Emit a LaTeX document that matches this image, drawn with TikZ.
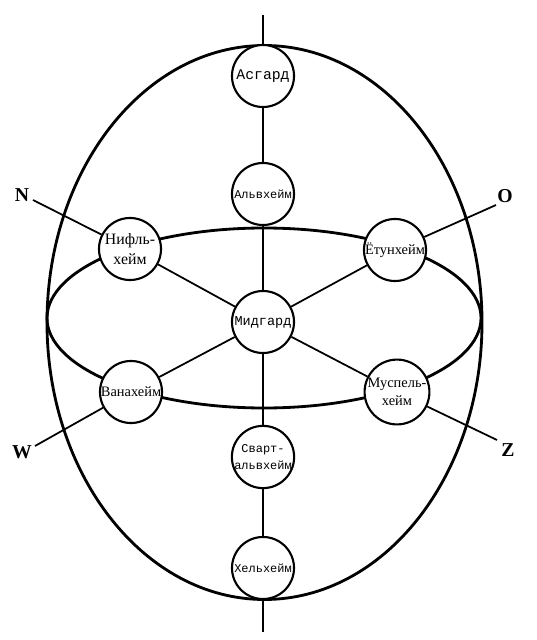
\documentclass[tikz,border=0pt]{standalone}
\usepackage{fontspec}
\setmainfont{Liberation Serif}
\newfontfamily\monof{Liberation Mono}
\begin{document}
\begin{tikzpicture}[x=0.01cm,y=-0.01cm,
  world/.style={circle,draw,line width=0.6pt,fill=white,minimum size=0.62cm,inner sep=0pt,align=center},
  monobig/.style={font=\monof\fontsize{4.2}{5}\selectfont},
  monomid/.style={font=\monof\fontsize{3.85}{4.8}\selectfont},
  mono/.style={font=\monof\fontsize{3.4}{4.6}\selectfont},
  serif/.style={font=\fontsize{4.1}{5.2}\selectfont},
  serifbig/.style={font=\fontsize{4.5}{5.6}\selectfont},
  dir/.style={font=\bfseries\fontsize{5.6}{6}\selectfont,inner sep=0pt},
  axis/.style={line width=0.5pt},
  ring/.style={line width=0.8pt}]
\useasboundingbox (0,0) rectangle (537,640);
% ellipses
\draw[ring] (264.5,322.5) ellipse [x radius=217.5, y radius=277];
\draw[ring] (264,318) ellipse [x radius=217, y radius=90];
% nodes
\node[world,monobig] (asg) at (263,76) {Асгард};
\node[world,mono] (alv) at (263,194) {Альвхейм};
\node[world,serifbig] (nif) at (130,249) {Нифль-\\хейм};
\node[world,serif] (jot) at (395,250) {Ётунхейм};
\node[world,monomid] (mid) at (263,322) {Мидгард};
\node[world,serif] (van) at (131,392) {Ванахейм};
\node[world,serif] (mus) at (397,392) {Муспель-\\хейм};
\node[world,mono] (sva) at (263,457) {Сварт-\\альвхейм};
\node[world,mono] (hel) at (263,568) {Хельхейм};
\node[dir] (N) at (22,195) {N};
\node[dir] (O) at (505,196) {O};
\node[dir] (W) at (22,452) {W};
\node[dir] (Z) at (508,450) {Z};
\coordinate (top) at (263,15);
\coordinate (bot) at (263,632);
\coordinate (nend) at (33,200);
\coordinate (oend) at (496,205);
\coordinate (wend) at (35,446);
\coordinate (zend) at (497,440);
% connectors
\draw[axis] (top) -- (asg);
\draw[axis] (asg) -- (alv);
\draw[axis] (alv) -- (mid);
\draw[axis] (mid) -- (sva);
\draw[axis] (sva) -- (hel);
\draw[axis] (hel) -- (bot);
\draw[axis] (nend) -- (nif);
\draw[axis] (nif) -- (mid);
\draw[axis] (mid) -- (mus);
\draw[axis] (mus) -- (zend);
\draw[axis] (oend) -- (jot);
\draw[axis] (jot) -- (mid);
\draw[axis] (mid) -- (van);
\draw[axis] (van) -- (wend);
\end{tikzpicture}
\end{document}
